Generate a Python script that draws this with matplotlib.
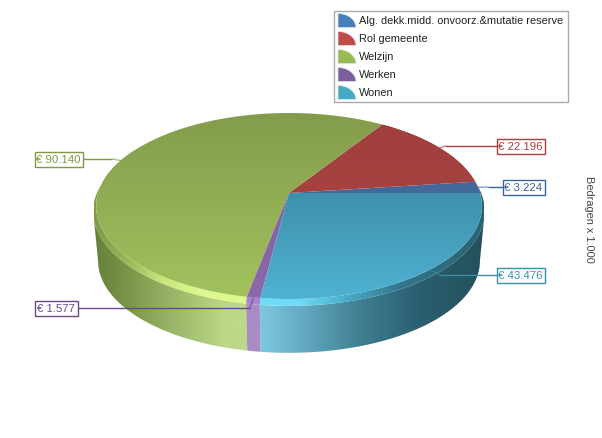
import numpy as np
import matplotlib
matplotlib.use('Agg')
import matplotlib.pyplot as plt
from matplotlib.colors import LinearSegmentedColormap
from matplotlib.patches import Polygon, Rectangle

plt.rcParams['font.family'] = ['Liberation Sans', 'DejaVu Sans']

categories = ['Alg. dekk.midd. onvoorz.&mutatie reserve', 'Rol gemeente', 'Welzijn', 'Werken', 'Wonen']
values = [3224, 22196, 90140, 1577, 43476]
axis_title = 'Bedragen x 1.000'

colors = ['#4a7ebb', '#be4b48', '#98b954', '#7d5fa0', '#46aac5']
label_colors = ['#3a659b', '#a5403e', '#7f9a3f', '#664a87', '#3590a8']
face_top = ['#3f6090', '#a03f3e', '#839c4c', '#7d5c9a', '#32768e']
face_bot = ['#4a76ad', '#b04644', '#a2c25e', '#8c68ac', '#4fb2d2']

# horizontal colour stops for the side wall and the rim, x in pixels
wall_stops = [
    [(94, '#24506a'), (484, '#24506a')],
    [(94, '#6a2a2a'), (484, '#6a2a2a')],
    [(94, '#66803a'), (130, '#7d984a'), (170, '#98b466'), (225, '#bcd888'), (484, '#bcd888')],
    [(94, '#a98cc4'), (484, '#a98cc4')],
    [(94, '#7cc8e0'), (262, '#7cc8e0'), (320, '#5a9db4'), (360, '#3f7f92'), (420, '#2a5f70'), (484, '#24505c')],
]
rim_stops = [
    [(94, '#2a4a70'), (484, '#2a4a70')],
    [(94, '#7d3533'), (484, '#7d3533')],
    [(94, '#7f9a48'), (120, '#94b052'), (160, '#c8e478'), (200, '#def88e'), (484, '#def88e')],
    [(94, '#a884cc'), (484, '#a884cc')],
    [(94, '#6edcf6'), (300, '#6edcf6'), (350, '#48a8c4'), (400, '#33778c'), (484, '#2a6272')],
]

CX, CY = 289, 194
RX, RY, K = 191, 91.2, 0.14
RIM_R, RIM_DY = 1.015, 5
BASE_R, WALL_DY = 0.99, 55
WALL_FROM, WALL_TO = 188, 352


def project(t, r=1.0, dy=0.0):
    t = np.radians(t)
    u, v = r * np.cos(t), r * np.sin(t)
    d = 1 + K * v
    return CX + RX * u / d, CY - RY * v / d + dy


def arc(t1, t2, r=1.0, dy=0.0):
    t = np.linspace(t1, t2, max(int(abs(t2 - t1)) * 2, 6))
    x, y = project(t, r, dy)
    return np.column_stack([x, y])


def fill_h(ax, pts, stops):
    xs = np.array([s[0] for s in stops], dtype=float)
    pos = (xs - 94) / (484 - 94)
    cmap = LinearSegmentedColormap.from_list('w', list(zip(pos, [s[1] for s in stops])))
    im = ax.imshow(np.linspace(0, 1, 390).reshape(1, -1), cmap=cmap, aspect='auto',
                   extent=(94, 484, 439, 0), vmin=0, vmax=1, interpolation='bilinear')
    patch = Polygon(pts, closed=True, facecolor='none', edgecolor='none', transform=ax.transData)
    ax.add_patch(patch)
    im.set_clip_path(patch)


def fill_v(ax, pts, c1, c2):
    cmap = LinearSegmentedColormap.from_list('f', [c1, c2])
    im = ax.imshow(np.linspace(0, 1, 200).reshape(-1, 1), cmap=cmap, aspect='auto',
                   extent=(0, 602, 300, 114), vmin=0, vmax=1, interpolation='bilinear')
    patch = Polygon(pts, closed=True, facecolor='none', edgecolor='none', transform=ax.transData)
    ax.add_patch(patch)
    im.set_clip_path(patch)


fig = plt.figure(figsize=(6.02, 4.39), dpi=100)
ax = fig.add_axes([0, 0, 1, 1])

angles = np.cumsum([0] + [v / sum(values) * 360 for v in values])

# side wall and rim, only the part that faces the viewer
for i in [2, 4, 3]:
    a, b = max(angles[i], WALL_FROM), min(angles[i + 1], WALL_TO)
    wall = np.vstack([arc(a, b, RIM_R, RIM_DY), arc(b, a, BASE_R, WALL_DY)])
    fill_h(ax, wall, wall_stops[i])
for i in [0, 1, 2, 4, 3]:
    t1, t2 = angles[i], angles[i + 1]
    if t2 < 160 and t1 > 30:
        continue
    a = max(t1, 150) if i == 2 else t1
    rim = np.vstack([arc(a, t2), arc(t2, a, RIM_R, RIM_DY)])
    fill_h(ax, rim, rim_stops[i])

# top face
for i in range(len(values)):
    pts = np.vstack([[CX, CY], arc(angles[i], angles[i + 1])])
    fill_v(ax, pts, face_top[i], face_bot[i])

# value labels with leader lines
box_x = [(502.5, 544.5), (496.5, 544.5), (34.5, 82.5), (34.5, 77.5), (496.5, 544.5)]
box_y = [188, 147, 160, 309, 276]
elbow_x = [488, 445, 112, 250, 440]
for i, v in enumerate(values):
    mid = (angles[i] + angles[i + 1]) / 2
    ax_, ay_ = project(mid)
    x1, x2 = box_x[i]
    near = x1 if x1 > 289 else x2
    ax.plot([near, elbow_x[i]], [box_y[i], box_y[i]], color=label_colors[i], lw=1, solid_capstyle='butt', zorder=5)
    ax.plot([elbow_x[i], ax_], [box_y[i], ay_], color=label_colors[i], lw=1, alpha=0.6, zorder=5)
    ax.add_patch(Rectangle((x1, box_y[i] - 7.5), x2 - x1, 15, facecolor='white',
                           edgecolor=label_colors[i], lw=1, zorder=6))
    txt = '€ ' + f'{v:,}'.replace(',', '.')
    ax.text((x1 + x2) / 2, box_y[i] + 0.3, txt, color=label_colors[i], fontsize=8.2,
            ha='center', va='center', zorder=7)

# legend
ax.add_patch(Rectangle((333.5, 11.5), 234, 91, facecolor='white', edgecolor='#aaaaaa', lw=1, zorder=8))
for i, name in enumerate(categories):
    y0 = 28.5 + i * 18
    t = np.radians(np.linspace(0, 90, 24))
    q = np.column_stack([338 + 18 * np.cos(t), y0 - 14 * np.sin(t)])
    ax.add_patch(Polygon(np.vstack([[338, y0], q]), closed=True, facecolor=colors[i],
                         edgecolor='#dfe8f2', lw=0.5, zorder=9))
    ax.text(359, y0 - 7, name, fontsize=7.9, color='#222222', ha='left', va='center', zorder=9)

ax.text(589, 219.5, axis_title, rotation=-90, fontsize=7.9, color='#444444', ha='center', va='center')

ax.set_xlim(0, 602)
ax.set_ylim(439, 0)
ax.axis('off')
fig.savefig('out.png', dpi=100, facecolor='white')
